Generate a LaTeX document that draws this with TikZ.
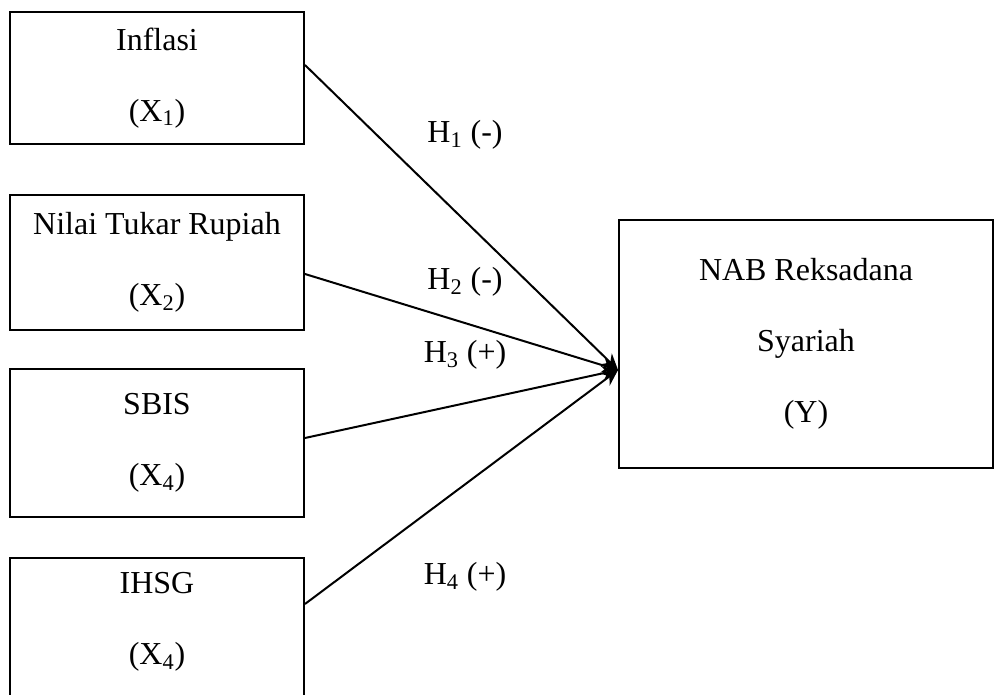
\documentclass[tikz,border=0pt]{standalone}
\usepackage{fontspec}
\setmainfont{Liberation Serif}
\usetikzlibrary{arrows.meta}
\begin{document}
\begin{tikzpicture}[x=0.02cm,y=-0.02cm,>={Stealth[length=0.32cm,width=0.3cm]},line width=0.04cm,
 kotak/.style={draw,minimum width=5.88cm,align=center,font=\fontsize{18.2}{40.5}\selectfont},
 teks/.style={align=center,font=\fontsize{18.2}{40.5}\selectfont},
 hip/.style={font=\fontsize{18.2}{22}\selectfont}]
\useasboundingbox (0,0) rectangle (994,695);
\node[kotak,minimum height=2.64cm] (inflasi) at (157,78) {Inflasi\\(X\textsubscript{1})};
\node[kotak,minimum height=2.7cm] (nilai) at (157,262.5) {Nilai Tukar Rupiah\\(X\textsubscript{2})};
\node[kotak,minimum height=2.96cm] (sbis) at (157,443) {SBIS\\(X\textsubscript{4})};
\node[kotak,minimum height=3.2cm] (ihsg) at (157,638) {};
\node[teks] (ihsgteks) at (157,622) {IHSG\\(X\textsubscript{4})};
\node[kotak,minimum width=7.48cm,minimum height=4.96cm] (nab) at (806,344) {NAB Reksadana\\Syariah\\(Y)};
\coordinate (tuju) at ([yshift=-0.52cm]nab.west);
\draw[->] ([yshift=0.26cm]inflasi.east) -- (tuju);
\draw[->] ([yshift=-0.23cm]nilai.east) -- (tuju);
\draw[->] ([yshift=0.1cm]sbis.east) -- (tuju);
\draw[->] ([yshift=0.68cm]ihsg.east) -- (tuju);
\node[hip] (h1) at (465,135) {H\textsubscript{1} (-)};
\node[hip] (h2) at (465,282) {H\textsubscript{2} (-)};
\node[hip] (h3) at (465,355) {H\textsubscript{3} (+)};
\node[hip] (h4) at (465,577) {H\textsubscript{4} (+)};
\end{tikzpicture}
\end{document}
